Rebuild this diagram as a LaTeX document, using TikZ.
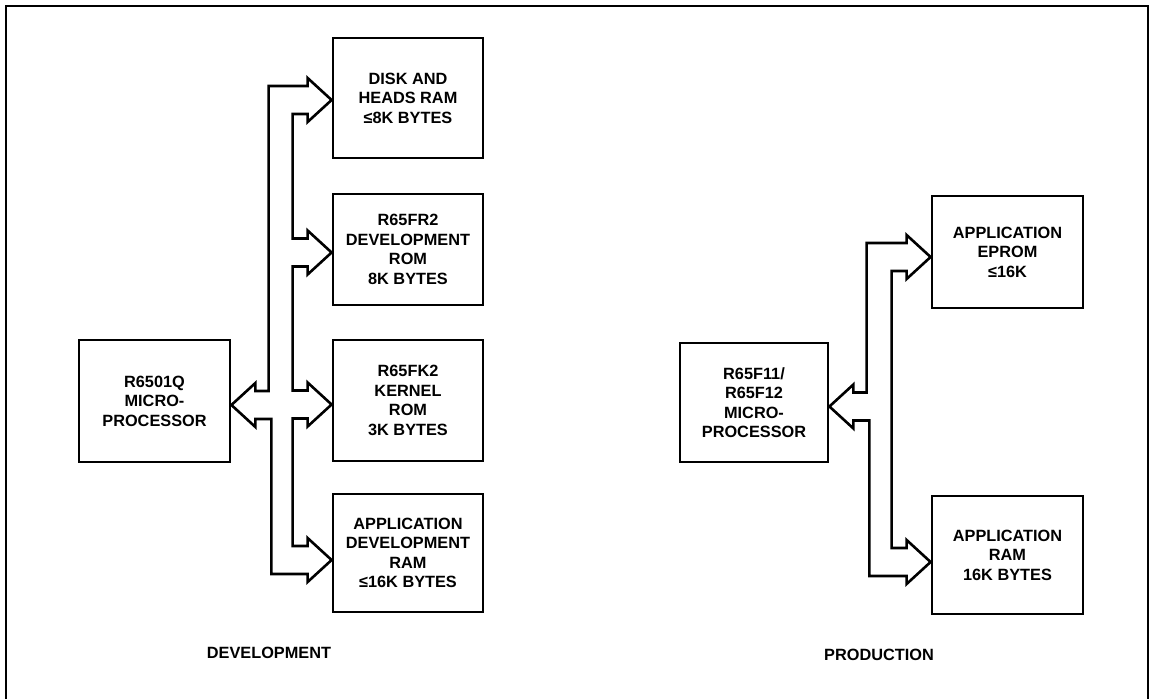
\documentclass[tikz,border=0pt]{standalone}
\usepackage{fontspec}
\setmainfont{Liberation Sans}
\usetikzlibrary{calc}
\tikzset{
  blk/.style={draw, line width=2.8pt, align=center, inner sep=0pt,
    font=\bfseries\fontsize{16.3}{19.5}\selectfont},
  bus/.style={line width=2.6pt, line join=miter},
  lbl/.style={anchor=base, font=\bfseries\fontsize{16.3}{19.5}\selectfont}
}
\begin{document}
\begin{tikzpicture}[x=1pt,y=-1pt]
            \useasboundingbox (0,0) rectangle (1152,699);
            \draw[line width=2.4pt] (6,699) -- (6,6) -- (1148,6) -- (1148,699);
            % development
            \node[blk, minimum width=151pt, minimum height=122pt] (cpu) at (154.5,401) {R6501Q\\MICRO-\\PROCESSOR};
            \node[blk, minimum width=150pt, minimum height=120pt] (disk) at (408,98) {DISK AND\\HEADS RAM\\≤8K BYTES};
            \node[blk, minimum width=150pt, minimum height=111pt] (fr2) at (408,249.5) {R65FR2\\DEVELOPMENT\\ROM\\8K BYTES};
            \node[blk, minimum width=150pt, minimum height=121pt] (fk2) at (408,400.5) {R65FK2\\KERNEL\\ROM\\3K BYTES};
            \node[blk, minimum width=150pt, minimum height=118pt] (adram) at (408,553) {APPLICATION\\DEVELOPMENT\\RAM\\≤16K BYTES};
            \coordinate (t1) at ([yshift=-2pt]disk.west);
            \coordinate (t2) at ([yshift=-3pt]fr2.west);
            \coordinate (t3) at ([yshift=-4pt]fk2.west);
            \coordinate (t4) at ([yshift=-7pt]adram.west);
            \coordinate (t0) at ([yshift=-4pt]cpu.east);
            \draw[bus] (t1) -- ++(-24,22) -- ++(0,-8) -| ($(t2)+(-39,-14)$) -- ++(15,0) -- ++(0,-8) -- (t2)
              -- ++(-24,22) -- ++(0,-8) -| ($(t3)+(-39,-14)$) -- ++(15,0) -- ++(0,-8) -- (t3)
              -- ++(-24,22) -- ++(0,-8) -| ($(t4)+(-39,-14)$) -- ++(15,0) -- ++(0,-8) -- (t4)
              -- ++(-24,22) -- ++(0,-8) -| ($(t0)+(40,14)$) -- ++(-16,0) -- ++(0,8) -- (t0)
              -- ++(24,-22) -- ++(0,8) -| ($(t1)+(-63,-14)$) -- ++(39,0) -- ++(0,-8) -- cycle;
            \node[lbl] (devlbl) at (269,658) {DEVELOPMENT};
            % production
            \node[blk, minimum width=148pt, minimum height=119pt] (cpub) at (754,402.5) {R65F11/\\R65F12\\MICRO-\\PROCESSOR};
            \node[blk, minimum width=151pt, minimum height=112pt] (eprom) at (1007.5,252) {APPLICATION\\EPROM\\≤16K};
            \node[blk, minimum width=151pt, minimum height=118pt] (aram) at (1007.5,555) {APPLICATION\\RAM\\16K BYTES};
            \coordinate (e) at ([yshift=-5pt]eprom.west);
            \coordinate (r) at ([yshift=-7pt]aram.west);
            \coordinate (c) at ([yshift=-4pt]cpub.east);
            \draw[bus] (e) -- ++(-24,22) -- ++(0,-8) -| ($(r)+(-39,-14)$) -- ++(15,0) -- ++(0,-8) -- (r)
              -- ++(-24,22) -- ++(0,-8) -| ($(c)+(40,14)$) -- ++(-16,0) -- ++(0,8) -- (c)
              -- ++(24,-22) -- ++(0,8) -| ($(e)+(-64,-14)$) -- ++(40,0) -- ++(0,-8) -- cycle;
            \node[lbl] (prodlbl) at (879,660) {PRODUCTION};
        \end{tikzpicture}
\end{document}
